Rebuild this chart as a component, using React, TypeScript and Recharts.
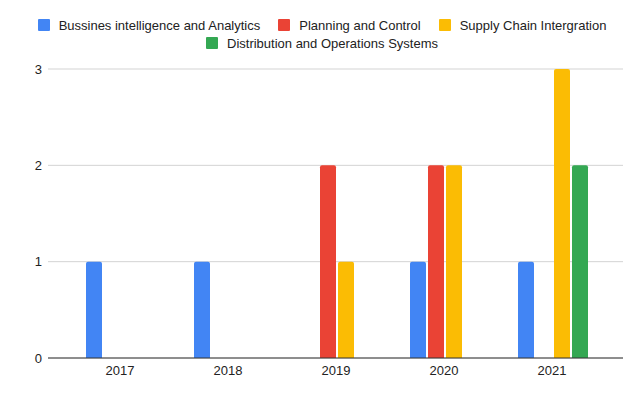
import { BarChart, Bar, XAxis, YAxis, CartesianGrid, Legend } from "recharts";

const YEARS = ["2017", "2018", "2019", "2020", "2021"];
const BI_ANALYTICS = [1, 1, null, 1, 1];
const PLANNING = [null, null, 2, 2, null];
const SUPPLY_CHAIN = [null, null, 1, 2, 3];
const DISTRIBUTION = [null, null, null, null, 2];
const Y_TICKS = [0, 1, 2, 3];

const SERIES = [
  { key: "bi", name: "Bussines intelligence and Analytics", color: "#4285F4" },
  { key: "planning", name: "Planning and Control", color: "#EA4335" },
  { key: "supply", name: "Supply Chain Intergration", color: "#FBBC04" },
  { key: "distribution", name: "Distribution and Operations Systems", color: "#34A853" },
];

const DATA = YEARS.map((year, i) => ({
  year,
  bi: BI_ANALYTICS[i],
  planning: PLANNING[i],
  supply: SUPPLY_CHAIN[i],
  distribution: DISTRIBUTION[i],
}));

const FONT = '"Liberation Sans", Arial, sans-serif';

function LegendItem({ name, color }: { name: string; color: string }) {
  return (
    <div style={{ display: "flex", alignItems: "center", margin: "0 9px" }}>
      <span
        style={{
          width: 12,
          height: 12,
          borderRadius: 1,
          background: color,
          marginRight: 9,
          display: "inline-block",
        }}
      />
      <span>{name}</span>
    </div>
  );
}

function ChartLegend() {
  const rows = [SERIES.slice(0, 3), SERIES.slice(3)];
  return (
    <div style={{ height: 69, paddingTop: 16, boxSizing: "border-box", fontSize: 13, color: "#222", fontFamily: FONT }}>
      {rows.map((row, r) => (
        <div key={r} style={{ display: "flex", justifyContent: "center", height: 18, alignItems: "center" }}>
          {row.map((s) => (
            <LegendItem key={s.key} name={s.name} color={s.color} />
          ))}
        </div>
      ))}
    </div>
  );
}

export default function App() {
  return (
    <div style={{ width: 644, height: 398, background: "#fff", fontFamily: FONT }}>
      <style>{"body{margin:0}"}</style>
      <BarChart
        width={644}
        height={398}
        data={DATA}
        margin={{ top: 0, right: 21, left: 0, bottom: 10 }}
        barCategoryGap={20}
        barGap={2}
      >
        <Legend verticalAlign="top" content={() => <ChartLegend />} wrapperStyle={{ left: 0, width: 644, top: 0 }} />
        <CartesianGrid vertical={false} stroke="#d3d3d3" />
        <XAxis
          dataKey="year"
          tickLine={false}
          axisLine={{ stroke: "#333" }}
          height={30}
          padding={{ left: 18, right: 17 }}
          tick={{ fill: "#222", fontSize: 13, fontFamily: FONT }}
        />
        <YAxis
          width={48}
          domain={[0, 3]}
          ticks={Y_TICKS}
          tickLine={false}
          axisLine={false}
          tickMargin={0}
          tick={{ fill: "#222", fontSize: 13, fontFamily: FONT }}
        />
        {SERIES.map((s) => (
          <Bar
            key={s.key}
            dataKey={s.key}
            name={s.name}
            fill={s.color}
            radius={[2, 2, 0, 0]}
            isAnimationActive={false}
          />
        ))}
      </BarChart>
    </div>
  );
}
